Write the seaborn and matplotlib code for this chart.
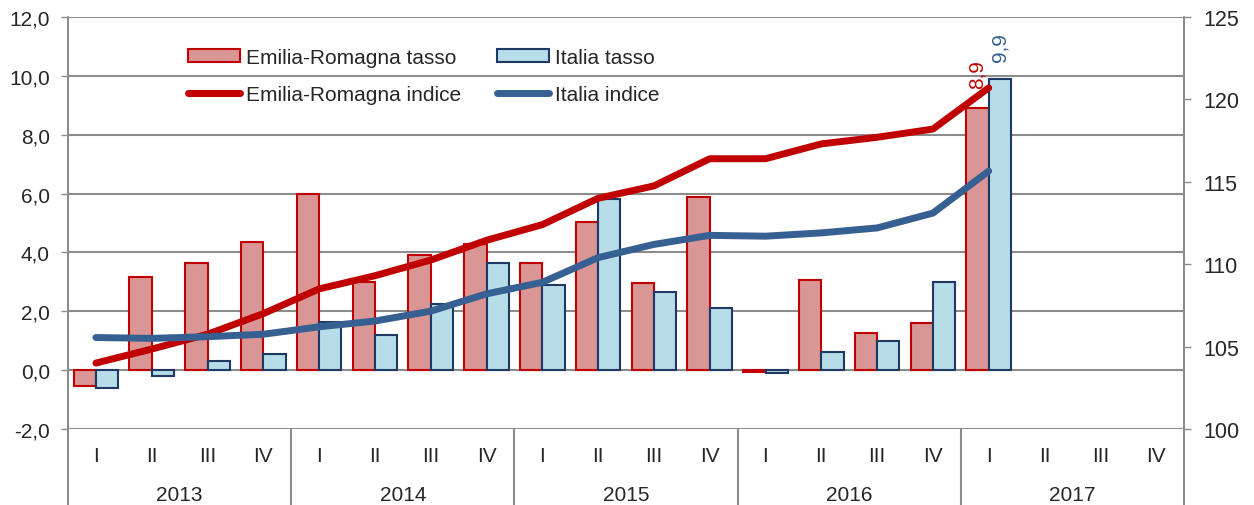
import matplotlib
matplotlib.use("Agg")
import matplotlib.pyplot as plt
import matplotlib.transforms as mtrans
from matplotlib.patches import Patch
from matplotlib.lines import Line2D
import seaborn as sns
import numpy as np
import pandas as pd

# data
years = ["2013", "2014", "2015", "2016", "2017"]
quarters = ["I", "II", "III", "IV"]
er_tasso = [-0.55, 3.15, 3.65, 4.35, 6.0, 3.0, 3.9, 4.3, 3.65, 5.05, 2.95, 5.9,
            -0.05, 3.05, 1.25, 1.6, 8.9, np.nan, np.nan, np.nan]
it_tasso = [-0.6, -0.2, 0.3, 0.55, 1.65, 1.2, 2.25, 3.65, 2.9, 5.8, 2.65, 2.1,
            -0.1, 0.6, 1.0, 3.0, 9.9, np.nan, np.nan, np.nan]
er_indice = [104.0, 104.85, 105.75, 107.0, 108.5, 109.3, 110.25, 111.45, 112.4, 114.0,
             114.75, 116.4, 116.4, 117.3, 117.7, 118.2, 120.7]
it_indice = [105.55, 105.5, 105.6, 105.75, 106.2, 106.55, 107.15, 108.2, 108.9, 110.4,
             111.2, 111.75, 111.7, 111.9, 112.2, 113.1, 115.65]

er_red = "#c00000"
er_fill = "#d99694"
it_blue = "#366092"
it_fill = "#b7dde8"
it_edge = "#1f3864"
grid_c = "#8c8c8c"
fs = 15

sns.set_style("white")
plt.rcParams["font.family"] = ["Liberation Sans", "DejaVu Sans"]

n = len(years) * len(quarters)
labels_q = [q for y in years for q in quarters]
idx = [str(i) for i in range(n)]

df = pd.DataFrame({
    "pos": idx * 2,
    "val": er_tasso + it_tasso,
    "serie": ["Emilia-Romagna tasso"] * n + ["Italia tasso"] * n,
})

fig = plt.figure(figsize=(12.54, 5.06), dpi=100)
ax = fig.add_axes([68 / 1254, 76 / 506, 1116 / 1254, 412 / 506])

sns.barplot(data=df, x="pos", y="val", hue="serie", order=idx,
            palette=[er_fill, it_fill], width=0.8, ax=ax, legend=False,
            linewidth=1.5, saturation=1)
for cont, ec in zip(ax.containers, [er_red, it_edge]):
    for b in cont:
        b.set_edgecolor(ec)
        b.set_linewidth(1.5)

ax.set_xlim(-0.5, n - 0.5)
ax.set_ylim(-2, 12)
ax.set_yticks(np.arange(-2, 12.1, 2))
ax.set_yticklabels([f"{v:.1f}".replace(".", ",") for v in np.arange(-2, 12.1, 2)])
ax.set_xticks(range(n))
ax.set_xticklabels(labels_q)
ax.set_xlabel("")
ax.set_ylabel("")
ax.yaxis.grid(True, color=grid_c, lw=1.5)
ax.set_axisbelow(True)
ax.tick_params(axis="x", length=0, pad=12, labelsize=fs)
ax.tick_params(axis="y", length=5, width=1, color=grid_c, labelsize=fs, pad=8)
for s in ax.spines.values():
    s.set_visible(False)

# year labels and separators below the axis
trans = mtrans.blended_transform_factory(ax.transData, ax.transAxes)
for i, yr in enumerate(years):
    ax.text(i * 4 + 1.5, -0.16, yr, transform=trans, ha="center", va="center", fontsize=fs)
for i in range(len(years) + 1):
    ax.plot([i * 4 - 0.5, i * 4 - 0.5], [-0.185, 1 if i in (0, len(years)) else 0],
            transform=trans, color=grid_c, lw=1.5, clip_on=False)

ax2 = ax.twinx()
xs = np.arange(len(er_indice))
sns.lineplot(x=xs, y=er_indice, color=er_red, lw=5, ax=ax2, solid_capstyle="round")
sns.lineplot(x=xs, y=it_indice, color=it_blue, lw=5, ax=ax2, solid_capstyle="round")
ax2.set_ylim(100, 125)
ax2.set_yticks(range(100, 126, 5))
ax2.tick_params(axis="y", length=5, width=1, color=grid_c, labelsize=fs + 0.5, pad=9)
for s in ax2.spines.values():
    s.set_visible(False)

# value labels on the last bars (drawn above the lines)
ax2.text(16 - 0.2, er_tasso[16] + 0.7, "8,9", transform=ax.transData, rotation=90,
         ha="center", va="bottom", color=er_red, fontsize=fs, zorder=5)
ax2.text(16 + 0.2, it_tasso[16] + 0.6, "9,9", transform=ax.transData, rotation=90,
         ha="center", va="bottom", color=it_blue, fontsize=fs, zorder=5)

handles = [
    Patch(facecolor=er_fill, edgecolor=er_red, lw=1.5, label="Emilia-Romagna tasso"),
    Patch(facecolor=it_fill, edgecolor=it_edge, lw=1.5, label="Italia tasso"),
    Line2D([], [], color=er_red, lw=5, solid_capstyle="round", label="Emilia-Romagna indice"),
    Line2D([], [], color=it_blue, lw=5, solid_capstyle="round", label="Italia indice"),
]
order = [0, 2, 1, 3]
ax2.legend([handles[i] for i in order], [handles[i].get_label() for i in order],
           ncol=2, loc="upper left", bbox_to_anchor=(0.1, 0.945), frameon=False,
           fontsize=fs, handlelength=2.5, handleheight=0.55, handletextpad=0.3,
           columnspacing=1.7, labelspacing=0.85, borderaxespad=0)

fig.savefig("out.png", dpi=100)
